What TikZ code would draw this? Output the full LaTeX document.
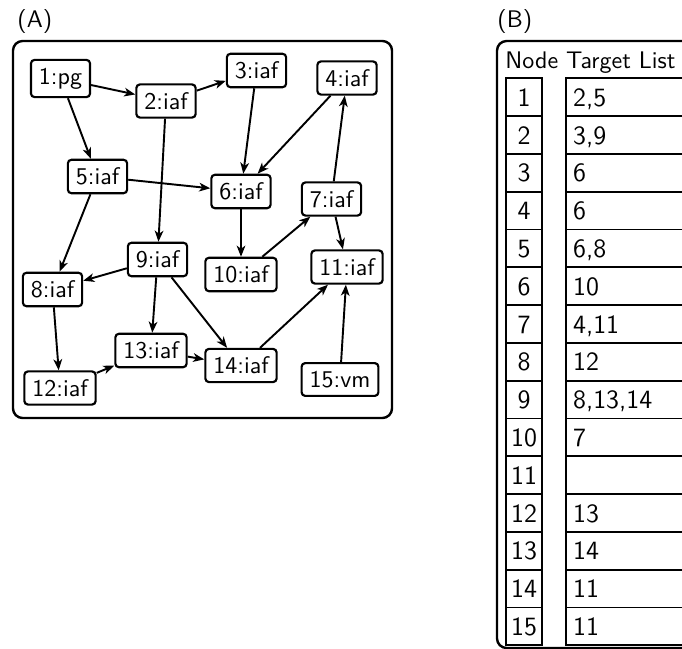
\documentclass[tikz,border=0pt]{standalone}
\usetikzlibrary{arrows.meta}
\begin{document}
\begin{tikzpicture}[x=0.41667pt, y=-0.41667pt, font=\sffamily,
  vertex/.style={draw, line width=0.9pt, rounded corners=1.5pt, inner sep=0.3333em},
  link/.style={line width=0.8pt, -{Stealth[length=4.6pt, width=3.6pt, inset=1.3pt]}},
  panel/.style={draw, line width=1pt, rounded corners=4pt},
  cellfont/.style={font=\sffamily\fontsize{11}{13}\selectfont},
  numcell/.style={cellfont, draw, line width=0.8pt, minimum width=15pt, minimum height=15.75pt,
    inner sep=0pt, text height=7.6pt, text depth=0pt},
  listcell/.style={cellfont, draw, line width=0.8pt, minimum height=15.75pt, inner ysep=0pt,
    inner xsep=3pt, text width=58.6pt, align=left, text height=7.6pt, text depth=0pt},
  caption/.style={anchor=base west, inner sep=0pt}
]
\clip (0,0) rectangle (682,649);

% ---------- (A) the task graph ----------
\node[caption] (capA) at (17,28) {(A)};
\draw[panel] (13,41) rectangle (392,418);

\node[vertex] (n1)  at (60.5,78.5)  {1:pg};
\node[vertex] (n2)  at (166,101)    {2:iaf};
\node[vertex] (n3)  at (256.5,70.5) {3:iaf};
\node[vertex] (n4)  at (347,78)     {4:iaf};
\node[vertex] (n5)  at (97.5,176.5) {5:iaf};
\node[vertex] (n6)  at (241,191.5)  {6:iaf};
\node[vertex] (n7)  at (331.5,199)  {7:iaf};
\node[vertex] (n8)  at (52.5,289.5) {8:iaf};
\node[vertex] (n9)  at (157.5,259.5){9:iaf};
\node[vertex] (n10) at (241,274.5)  {10:iaf};
\node[vertex] (n11) at (347,267)    {11:iaf};
\node[vertex] (n12) at (60,388)     {12:iaf};
\node[vertex] (n13) at (151,350.5)  {13:iaf};
\node[vertex] (n14) at (241,365.5)  {14:iaf};
\node[vertex] (n15) at (340,379.5)  {15:vm};

\foreach \a/\b in {1/2, 1/5, 2/3, 2/9, 3/6, 4/6, 5/6, 5/8, 6/10, 7/4, 7/11,
                   8/12, 9/8, 9/13, 9/14, 10/7, 12/13, 13/14, 14/11, 15/11}
  \draw[link] (n\a) -- (n\b);

% ---------- (B) adjacency table ----------
\node[caption] (capB) at (497,28) {(B)};
\draw[panel] (497,41) rectangle (740,648);
\node[caption] (head) at (505,68) {Node Target List};

\foreach \i/\t in {1/{2,5}, 2/{3,9}, 3/{6}, 4/{6}, 5/{6,8}, 6/{10}, 7/{4,11},
                   8/{12}, 9/{8,13,14}, 10/{7}, 11/{}, 12/{13}, 13/{14},
                   14/{11}, 15/{11}} {
  \node[numcell]  (c\i) at (524, {78.3+(\i-1)*37.8+18.9}) {\i};
  \node[listcell] (t\i) at (565, {78.3+(\i-1)*37.8+18.9}) [anchor=west] {\t};
}
\end{tikzpicture}
\end{document}
